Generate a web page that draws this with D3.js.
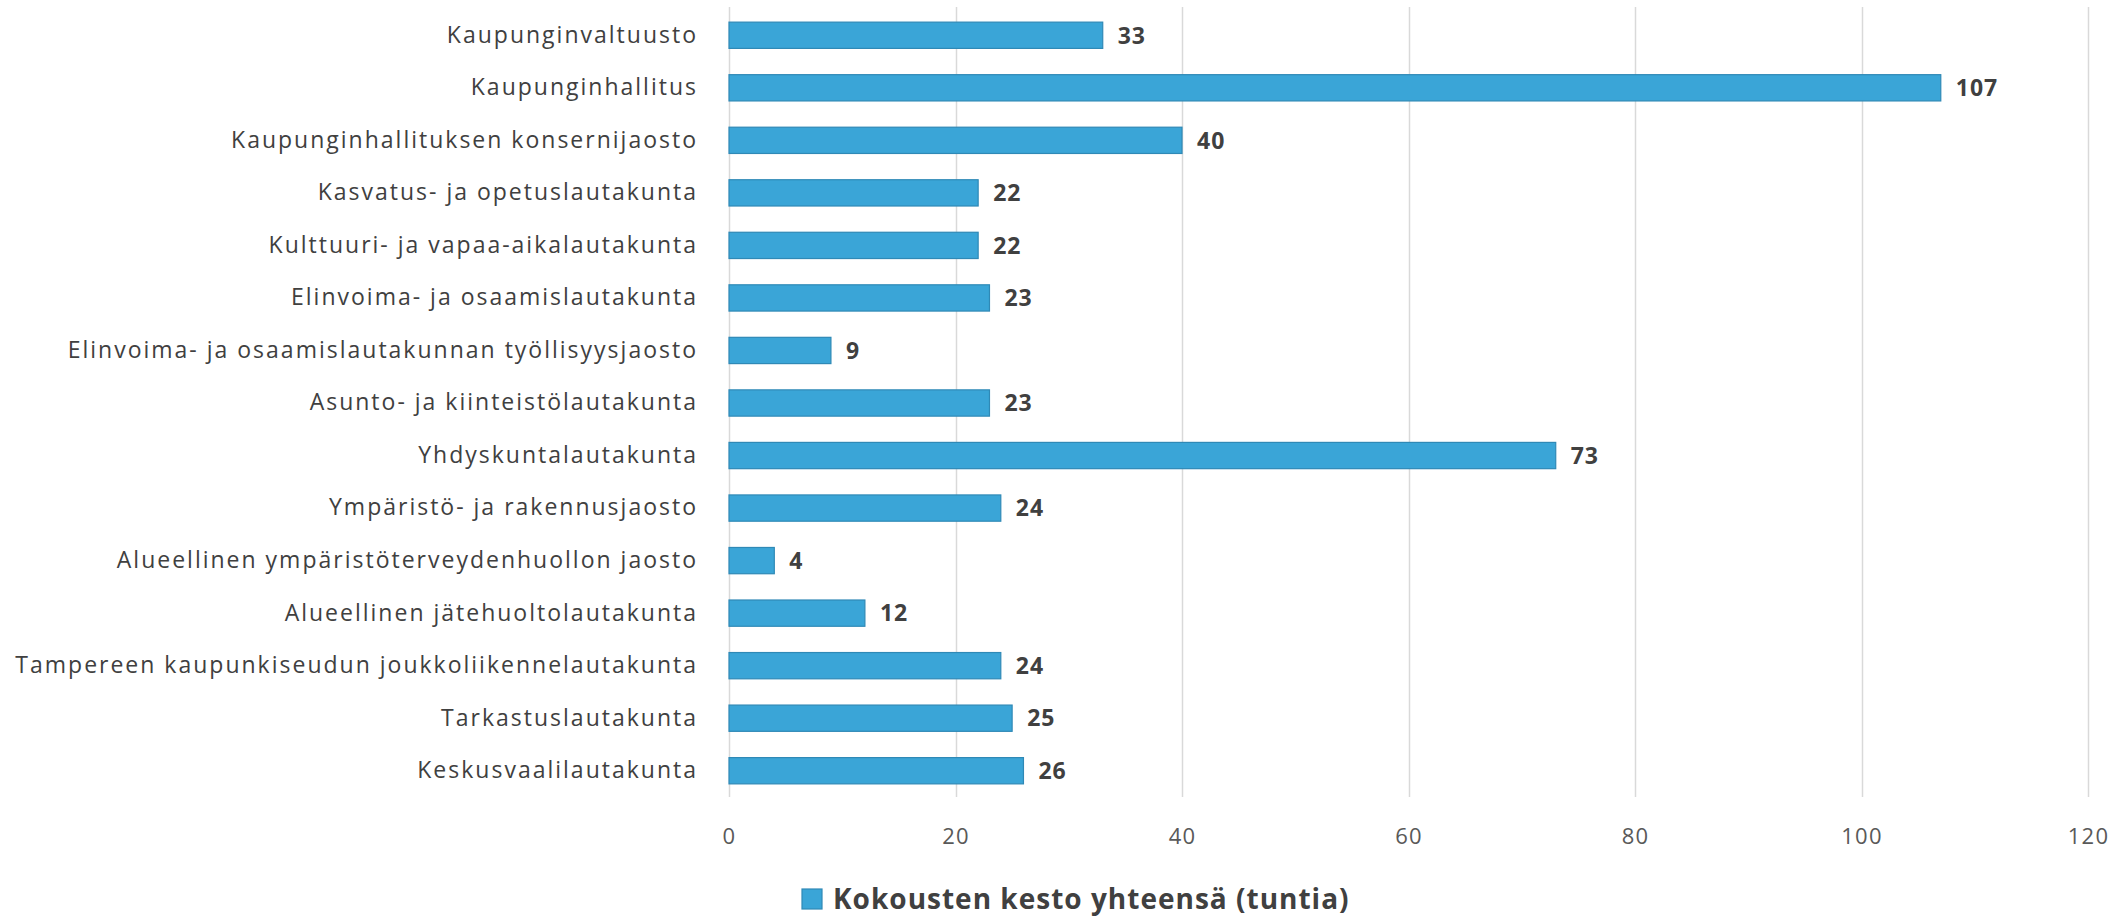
<!DOCTYPE html>
<html>
<head>
<meta charset="utf-8">
<script src="https://cdn.jsdelivr.net/npm/d3@7"></script>
<style>
  html, body { margin: 0; padding: 0; background: #fff; }
  text { font-family: "Open Sans", sans-serif; }
</style>
</head>
<body>
<div id="vis"></div>
<script>
////////////////////////////////////////
/////////////// Data ///////////////////
////////////////////////////////////////

const categories = [
  "Kaupunginvaltuusto",
  "Kaupunginhallitus",
  "Kaupunginhallituksen konsernijaosto",
  "Kasvatus- ja opetuslautakunta",
  "Kulttuuri- ja vapaa-aikalautakunta",
  "Elinvoima- ja osaamislautakunta",
  "Elinvoima- ja osaamislautakunnan työllisyysjaosto",
  "Asunto- ja kiinteistölautakunta",
  "Yhdyskuntalautakunta",
  "Ympäristö- ja rakennusjaosto",
  "Alueellinen ympäristöterveydenhuollon jaosto",
  "Alueellinen jätehuoltolautakunta",
  "Tampereen kaupunkiseudun joukkoliikennelautakunta",
  "Tarkastuslautakunta",
  "Keskusvaalilautakunta",
];

const hours = [33, 107, 40, 22, 22, 23, 9, 23, 73, 24, 4, 12, 24, 25, 26];

const xTicks = [0, 20, 40, 60, 80, 100, 120];

const seriesName = "Kokousten kesto yhteensä (tuntia)";

////////////////////////////////////////
/////////////// Options ////////////////
////////////////////////////////////////

const options = {
  width: 2117,
  height: 916,
  margin: { top: 7, right: 29, bottom: 119, left: 729 },
  fill: "#3AA5D7",
  stroke: "#2F89B6",
  grid: "#D9D9D9",
  text: "#404040",
};

const data = categories.map((c, i) => ({ name: c, value: hours[i] }));

////////////////////////////////////////
////////////// SVG Setup ///////////////
////////////////////////////////////////

const svgRoot = d3
  .select("#vis")
  .append("svg")
  .attr("width", options.width)
  .attr("height", options.height);

const svg = svgRoot
  .append("g")
  .attr("transform", `translate(${options.margin.left},${options.margin.top})`);

const width = options.width - options.margin.left - options.margin.right;
const height = options.height - options.margin.top - options.margin.bottom;

////////////////////////////////////////
////////////// Scales //////////////////
////////////////////////////////////////

const xScale = d3.scaleLinear().domain([0, 120]).range([0, width]);

const yScale = d3
  .scaleBand()
  .domain(categories)
  .range([2, height])
  .paddingInner(0.5)
  .paddingOuter(0.25);

////////////////////////////////////////
////////////// Grid ////////////////////
////////////////////////////////////////

svg
  .selectAll(".grid")
  .data(xTicks)
  .join("line")
  .attr("class", "grid")
  .attr("x1", (d) => Math.round(xScale(d)) + 0.5)
  .attr("x2", (d) => Math.round(xScale(d)) + 0.5)
  .attr("y1", 0)
  .attr("y2", height)
  .attr("stroke", options.grid)
  .attr("stroke-width", 1.5);

////////////////////////////////////////
////////////// Bars ////////////////////
////////////////////////////////////////

svg
  .selectAll(".bar")
  .data(data)
  .join("rect")
  .attr("class", "bar")
  .attr("x", xScale(0))
  .attr("y", (d) => yScale(d.name))
  .attr("width", (d) => xScale(d.value) - xScale(0))
  .attr("height", yScale.bandwidth())
  .attr("fill", options.fill)
  .attr("stroke", options.stroke)
  .attr("stroke-width", 1.2);

// value labels
svg
  .selectAll(".value")
  .data(data)
  .join("text")
  .attr("class", "value")
  .attr("x", (d) => xScale(d.value) + 15)
  .attr("y", (d) => yScale(d.name) + yScale.bandwidth() / 2)
  .attr("dy", "0.36em")
  .attr("fill", options.text)
  .attr("font-size", 23)
  .attr("font-weight", "bold")
  .attr("letter-spacing", 1)
  .text((d) => d.value);

////////////////////////////////////////
//////////////// Axis //////////////////
////////////////////////////////////////

const yAxis = svg
  .append("g")
  .call(d3.axisLeft(yScale).tickSize(0).tickPadding(31));

yAxis.select(".domain").remove();
yAxis
  .selectAll(".tick>text")
  .attr("font-family", "Open Sans, sans-serif")
  .attr("font-size", 23)
  .attr("letter-spacing", 2)
  .attr("fill", options.text);

const xAxis = svg
  .append("g")
  .attr("transform", `translate(0,${height})`)
  .call(d3.axisBottom(xScale).tickValues(xTicks).tickSize(0).tickPadding(31));

xAxis.select(".domain").remove();
xAxis
  .selectAll(".tick>text")
  .attr("font-family", "Open Sans, sans-serif")
  .attr("font-size", 22)
  .attr("letter-spacing", 1.2)
  .attr("fill", "#595959");

////////////////////////////////////////
////////////// Legend //////////////////
////////////////////////////////////////

const legend = svgRoot.append("g").attr("transform", "translate(802,889)");

legend
  .append("rect")
  .attr("width", 20)
  .attr("height", 20)
  .attr("fill", options.fill)
  .attr("stroke", options.stroke)
  .attr("stroke-width", 1.2);

legend
  .append("text")
  .attr("x", 31)
  .attr("y", 10)
  .attr("dy", "0.36em")
  .attr("font-size", 28)
  .attr("font-weight", "bold")
  .attr("letter-spacing", 1)
  .attr("fill", options.text)
  .text(seriesName);
</script>
</body>
</html>
